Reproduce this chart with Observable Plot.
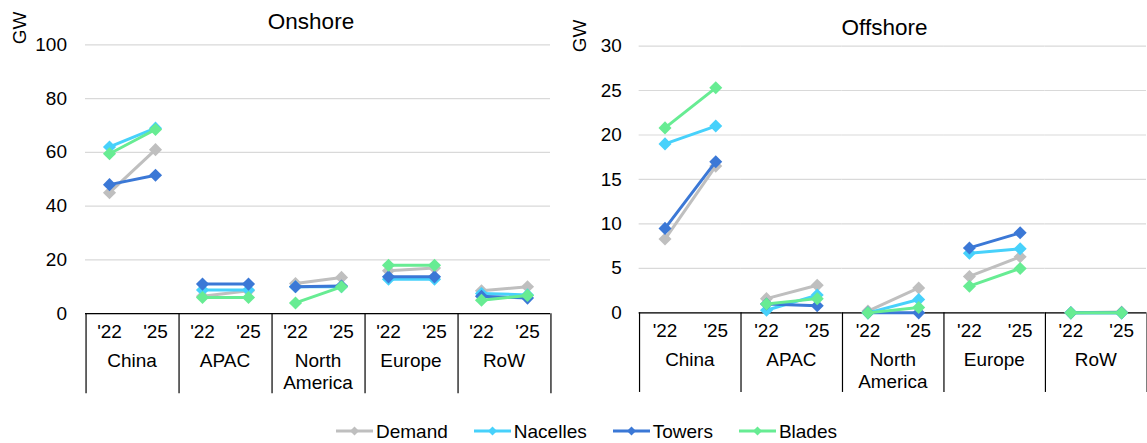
<!DOCTYPE html>
<html>
<head>
<meta charset="utf-8">
<script src="https://cdn.jsdelivr.net/npm/d3@7"></script>
<script src="https://cdn.jsdelivr.net/npm/@observablehq/plot@0.6"></script>
<style>
  html, body { margin: 0; padding: 0; background: #fff; }
  body { width: 1147px; height: 443px; overflow: hidden; position: relative;
         font-family: "Liberation Sans", Arial, sans-serif; color: #000; }
  .abs { position: absolute; }
  .title { font-size: 22.5px; line-height: 1; white-space: nowrap; transform: translate(-50%, -50%); }
  .ylab { font-size: 19px; line-height: 1; white-space: nowrap; transform: translate(-50%, -50%) rotate(-90deg); }
  #legend { position: absolute; left: 336px; top: 419px; height: 24px; display: flex; align-items: center;
            gap: 26px; font-size: 19px; line-height: 1; white-space: nowrap; }
  .item { display: flex; align-items: center; gap: 3px; }
</style>
</head>
<body>
<div id="left" class="abs" style="left:0;top:0"></div>
<div id="right" class="abs" style="left:570px;top:0"></div>
<div class="abs title" style="left:311px;top:21.5px">Onshore</div>
<div class="abs title" style="left:884.5px;top:27.5px">Offshore</div>
<div class="abs ylab" style="left:19px;top:28px">GW</div>
<div class="abs ylab" style="left:579px;top:36px">GW</div>
<div id="legend"></div>
<script>
const regions = ["China", "APAC", "North America", "Europe", "RoW"];
const years = ["'22", "'25"];
const seriesNames = ["Demand", "Nacelles", "Towers", "Blades"];
const seriesColors = ["#bfbfbf", "#47d1fb", "#3b78d6", "#67ec93"];
const onshoreTicks = [0, 20, 40, 60, 80, 100];
const offshoreTicks = [0, 5, 10, 15, 20, 25, 30];

// GW, region by region: '22 then '25
const onshoreDemand   = [45, 61,   6.5, 8.5,  11.2, 13.5,  16, 17,    8.5, 10];
const onshoreNacelles = [62, 69,   8.8, 8.8,  10, 10,      12.8, 12.8, 7.5, 7];
const onshoreTowers   = [48, 51.5, 11, 11,    10, 10.3,    13.7, 13.7, 6.5, 5.8];
const onshoreBlades   = [59.5, 68.5, 6, 6,    4, 10,       18, 18,    5, 6.8];

const offshoreDemand   = [8.3, 16.5, 1.6, 3.1, 0.2, 2.8, 4.1, 6.3, 0, 0.1];
const offshoreNacelles = [19, 21,    0.3, 2.0, 0, 1.5,   6.7, 7.2, 0, 0];
const offshoreTowers   = [9.5, 17,   1.0, 0.8, 0, 0,     7.3, 9.0, 0, 0];
const offshoreBlades   = [20.8, 25.3, 1.0, 1.6, 0, 0.6,  3.0, 5.0, 0, 0];

function toRows(seriesValues) {
  const rows = [];
  seriesNames.forEach((s, si) => {
    regions.forEach((r, ri) => {
      years.forEach((yr, yi) => {
        rows.push({series: s, region: r, year: yr, value: seriesValues[si][ri * 2 + yi]});
      });
    });
  });
  return rows;
}

function panel({rows, ticks, width, height, marginLeft, marginRight, marginTop, marginBottom, tickPadding}) {
  const plotH = height - marginTop - marginBottom;
  const facetW = (width - marginLeft - marginRight) / regions.length;
  const seriesMarks = [];
  seriesNames.forEach((s, i) => {
    const d = rows.filter(r => r.series === s);
    seriesMarks.push(Plot.line(d, {fx: "region", x: "year", y: "value", stroke: seriesColors[i], strokeWidth: 3}));
    seriesMarks.push(Plot.dot(d, {fx: "region", x: "year", y: "value", symbol: "diamond2", r: 5.9, fill: seriesColors[i], stroke: "none"}));
  });
  return Plot.plot({
    width, height, marginLeft, marginRight, marginTop, marginBottom,
    style: {fontFamily: "'Liberation Sans', Arial, sans-serif", fontSize: "19px", color: "#000", background: "transparent", overflow: "visible"},
    fx: {domain: regions, padding: 0, label: null},
    x: {domain: years, padding: 0.5, label: null},
    y: {domain: [0, ticks[ticks.length - 1]], label: null},
    marks: [
      Plot.gridY({ticks, stroke: "#d9d9d9", strokeOpacity: 1, strokeWidth: 1.2}),
      Plot.axisY({ticks, tickSize: 0, tickPadding, label: null}),
      Plot.axisX({tickSize: 0, tickPadding: 10.5, label: null}),
      Plot.axisFx({anchor: "bottom", tickSize: 0, tickPadding: 38.5, label: null, lineHeight: 1.13,
                   tickFormat: d => d === "North America" ? "North\nAmerica" : d}),
      Plot.ruleY([0], {stroke: "#000", strokeWidth: 1.3}),
      Plot.ruleX(regions, {fx: d => d, x: () => years[0], dx: -facetW / 4, insetTop: plotH, insetBottom: -80, stroke: "#000", strokeWidth: 1.2}),
      Plot.ruleX([regions[regions.length - 1]], {fx: d => d, x: () => years[1], dx: facetW / 4, insetTop: plotH, insetBottom: -80, stroke: "#000", strokeWidth: 1.2}),
      ...seriesMarks
    ]
  });
}

document.getElementById("left").appendChild(panel({
  rows: toRows([onshoreDemand, onshoreNacelles, onshoreTowers, onshoreBlades]),
  ticks: onshoreTicks, width: 570, height: 400,
  marginLeft: 83, marginRight: 18, marginTop: 44.3, marginBottom: 86.8, tickPadding: 18.5
}));
document.getElementById("right").appendChild(panel({
  rows: toRows([offshoreDemand, offshoreNacelles, offshoreTowers, offshoreBlades]),
  ticks: offshoreTicks, width: 580, height: 400,
  marginLeft: 68, marginRight: 0, marginTop: 45.8, marginBottom: 86, tickPadding: 17.5
}));

const legend = document.getElementById("legend");
seriesNames.forEach((s, i) => {
  const item = document.createElement("div");
  item.className = "item";
  const c = seriesColors[i];
  item.innerHTML = `<svg width="37" height="12" viewBox="0 0 37 12"><line x1="0" y1="6" x2="37" y2="6" stroke="${c}" stroke-width="3"/><path d="M18.5 1.5 L23 6 L18.5 10.5 L14 6 Z" fill="${c}"/></svg><span>${s}</span>`;
  legend.appendChild(item);
});
</script>
</body>
</html>
